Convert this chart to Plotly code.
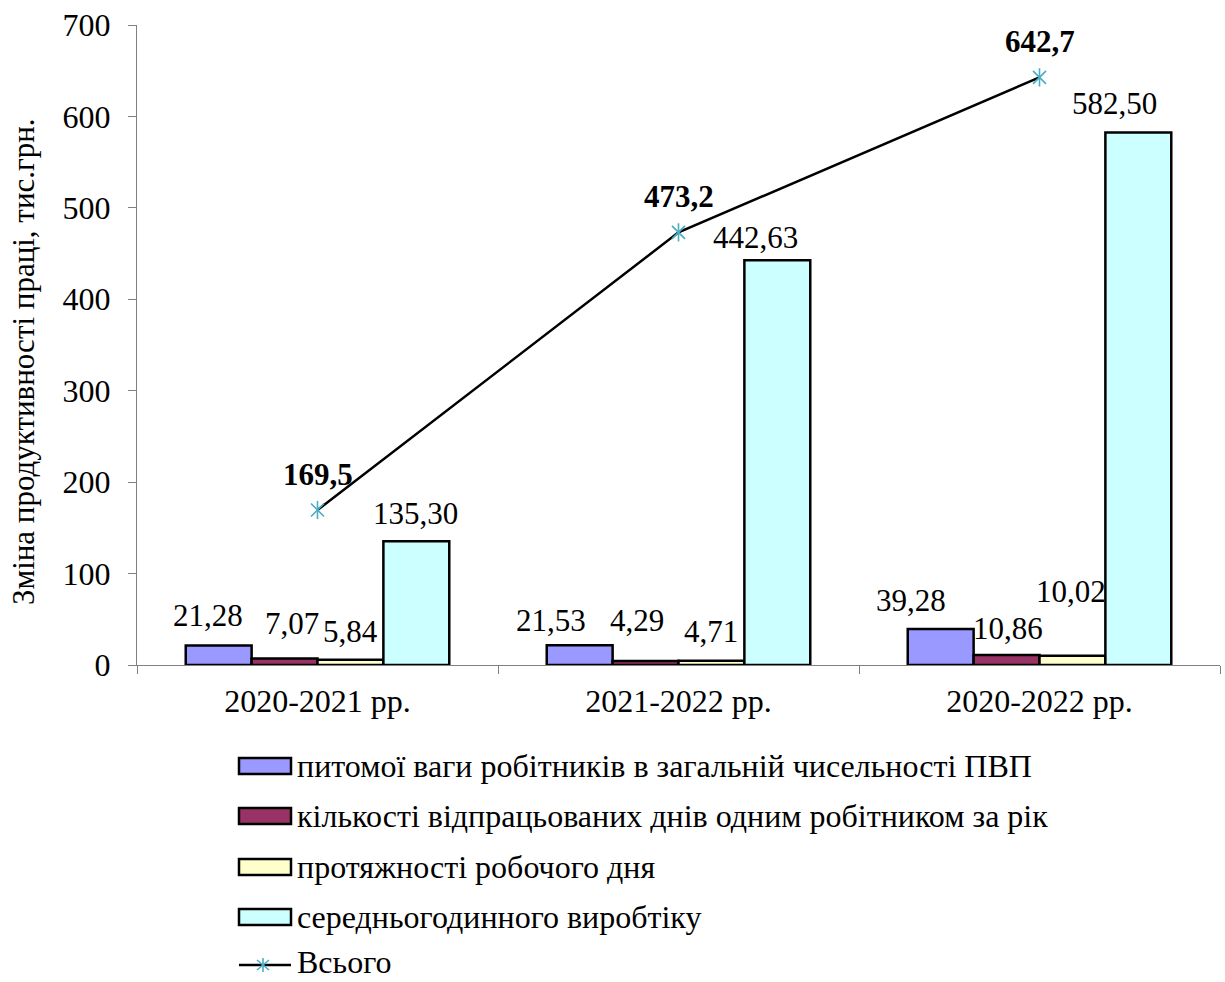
import plotly.graph_objects as go

# Periods on the category axis
periods = ["2020-2021 рр.", "2021-2022 рр.", "2020-2022 рр."]

# Factor contributions to labour productivity change, thousand UAH
share_of_workers = [21.28, 21.53, 39.28]
days_worked = [7.07, 4.29, 10.86]
workday_length = [5.84, 4.71, 10.02]
hourly_output = [135.30, 442.63, 582.50]
total_change = [169.5, 473.2, 642.7]

series_names = [
    "питомої ваги робітників в загальній чисельності ПВП",
    "кількості відпрацьованих днів одним робітником за рік",
    "протяжності робочого дня",
    "середньогодинного виробтіку",
]
total_name = "Всього"

series_values = [share_of_workers, days_worked, workday_length, hourly_output]
series_colors = ["#9999FF", "#993366", "#FFFFCC", "#CCFFFF"]
marker_color = "#4BACC6"

FONT = "Liberation Serif, Times New Roman, serif"
FS = 32       # axes, legend, title
FS_LBL = 31   # value labels

# page geometry (pixels)
WIDTH, HEIGHT = 1225, 982
ML, MR, MT, MB = 137, 5, 25, 317
PW = WIDTH - ML - MR
PH = HEIGHT - MT - MB

BARGAP = 0.27
BAR_W = (1 - BARGAP) / len(series_values)


def px_x(px):
    return (px - ML) / PW


def px_y(py):
    return (HEIGHT - MB - py) / PH


fig = go.Figure()

for name, vals, col in zip(series_names, series_values, series_colors):
    fig.add_trace(go.Bar(
        x=periods, y=vals, name=name,
        marker=dict(color=col, line=dict(color="black", width=2.5)),
        showlegend=False,
    ))

fig.add_trace(go.Scatter(
    x=periods, y=total_change, mode="lines", name=total_name,
    line=dict(color="black", width=2.5),
    showlegend=False, hoverinfo="skip",
))
# six-armed star marker: an x plus a vertical stroke
for sym in ["x-thin-open", "line-ns-open"]:
    fig.add_trace(go.Scatter(
        x=periods, y=total_change, mode="markers",
        marker=dict(symbol=sym, size=13, color=marker_color,
                    line=dict(color=marker_color, width=1.6)),
        showlegend=False, hoverinfo="skip",
    ))

annotations = []

# pixel nudges for the bar value labels (series x period)
label_nudge = [
    [(-11, 30), (-29, 25), (-30, 29)],
    [(7, 35), (-9, 41), (1, 27)],
    [(0, 28), (0, 29), (-1, 64)],
    [(-1, 28), (-22, 23), (-24, 29)],
]

for si, vals in enumerate(series_values):
    for gi, v in enumerate(vals):
        dx, dy = label_nudge[si][gi]
        annotations.append(dict(
            x=gi + (si - 1.5) * BAR_W, y=v, xref="x", yref="y",
            text=f"{v:.2f}".replace(".", ","), showarrow=False,
            xanchor="center", yanchor="middle", xshift=dx, yshift=dy,
            font=dict(family=FONT, size=FS_LBL, color="black"),
        ))

for gi, v in enumerate(total_change):
    annotations.append(dict(
        x=gi, y=v, xref="x", yref="y",
        text=f"<b>{v:.1f}</b>".replace(".", ","), showarrow=False,
        xanchor="center", yanchor="middle", yshift=36,
        font=dict(family=FONT, size=FS_LBL, color="black"),
    ))

# y-axis title
annotations.append(dict(
    x=px_x(23), y=px_y(362), xref="paper", yref="paper",
    text="Зміна продуктивності праці, тис.грн.", textangle=-90,
    showarrow=False, xanchor="center", yanchor="middle",
    font=dict(family=FONT, size=FS - 1, color="black"),
))

# legend drawn below the axes
shapes = []
leg_x0, leg_x1, txt_x = 239, 291, 295
leg_rows = [766, 816, 867, 917, 962]
for name, col, yc in zip(series_names, series_colors, leg_rows):
    shapes.append(dict(
        type="rect", xref="paper", yref="paper",
        x0=px_x(leg_x0), x1=px_x(leg_x1), y0=px_y(yc + 8), y1=px_y(yc - 8),
        fillcolor=col, line=dict(color="black", width=2.5),
    ))
    annotations.append(dict(
        x=px_x(txt_x), y=px_y(yc), xref="paper", yref="paper",
        text=name, showarrow=False, xanchor="left", yanchor="middle",
        font=dict(family=FONT, size=FS, color="black"),
    ))

yl = leg_rows[-1]
ymark = 965
shapes.append(dict(
    type="line", xref="paper", yref="paper",
    x0=px_x(leg_x0), x1=px_x(leg_x1), y0=px_y(ymark), y1=px_y(ymark),
    line=dict(color="black", width=2.5),
))
cx, r = 263, 7
for (ax0, ay0, ax1, ay1) in [(cx, ymark - r, cx, ymark + r),
                             (cx - 6, ymark - 5, cx + 6, ymark + 5),
                             (cx - 6, ymark + 5, cx + 6, ymark - 5)]:
    shapes.append(dict(
        type="line", xref="paper", yref="paper",
        x0=px_x(ax0), x1=px_x(ax1), y0=px_y(ay0), y1=px_y(ay1),
        line=dict(color=marker_color, width=1.6),
    ))
annotations.append(dict(
    x=px_x(txt_x), y=px_y(yl), xref="paper", yref="paper",
    text=total_name, showarrow=False, xanchor="left", yanchor="middle",
    font=dict(family=FONT, size=FS, color="black"),
))

fig.update_layout(
    width=WIDTH, height=HEIGHT,
    margin=dict(l=ML, r=MR, t=MT, b=MB, pad=0),
    paper_bgcolor="white", plot_bgcolor="white",
    barmode="group", bargap=BARGAP, bargroupgap=0,
    font=dict(family=FONT, size=FS, color="black"),
    annotations=annotations, shapes=shapes,
    xaxis=dict(
        type="category", range=[-0.5, 2.5], tickson="boundaries",
        ticks="outside", ticklen=8, tickcolor="#808080",
        showline=True, linecolor="#808080", linewidth=1,
        showgrid=False, zeroline=False,
        tickfont=dict(family=FONT, size=FS, color="black"),
        ticklabelstandoff=8,
    ),
    yaxis=dict(
        range=[0, 700], dtick=100, tick0=0,
        ticks="outside", ticklen=8, tickcolor="#808080",
        showline=True, linecolor="#808080", linewidth=1,
        showgrid=False, zeroline=False,
        tickfont=dict(family=FONT, size=FS, color="black"),
        ticklabelstandoff=11,
    ),
)

fig.write_html("out.html")
